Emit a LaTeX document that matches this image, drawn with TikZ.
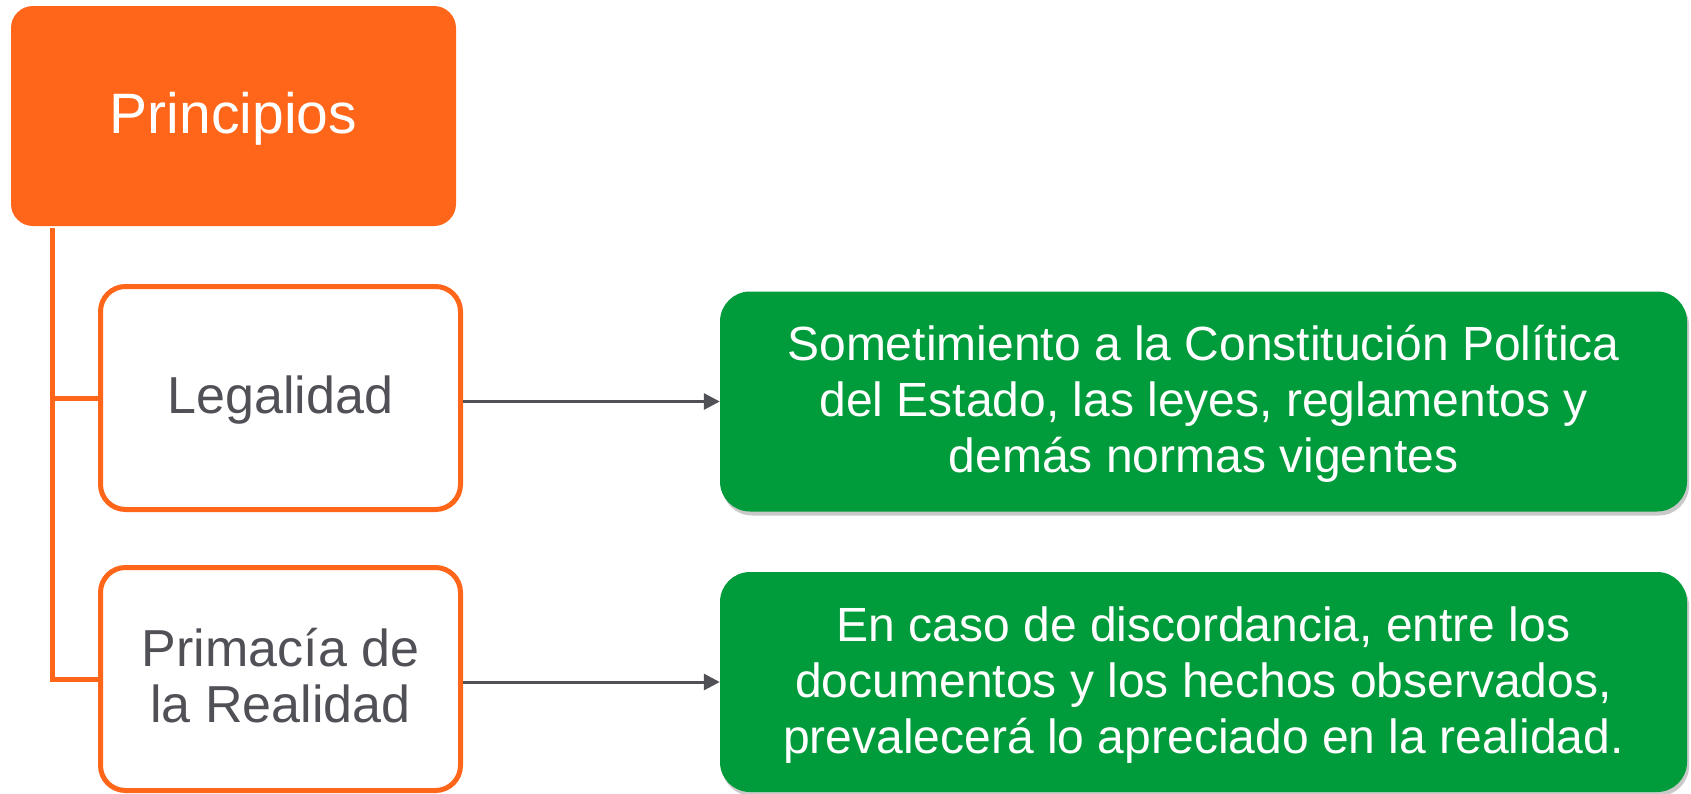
\documentclass[tikz,border=0pt]{standalone}
\usepackage{fontspec}
\setmainfont{Liberation Sans}
\usetikzlibrary{arrows.meta,shadows}
\definecolor{orng}{RGB}{255,102,26}
\definecolor{grn}{RGB}{0,155,58}
\definecolor{gry}{RGB}{80,80,87}
\newcommand{\lowtext}[1]{\raisebox{-4pt}[\height][\depth]{\begin{tabular}{@{}c@{}}#1\end{tabular}}}
\tikzset{
  headbox/.style={fill=orng, rounded corners=22pt, inner sep=0pt, text=white,
    minimum width=445pt, minimum height=220pt, font=\fontsize{57}{66}\selectfont},
  itembox/.style={draw=orng, line width=5pt, fill=white, rounded corners=25pt, inner sep=0pt,
    text=gry, minimum width=360pt, minimum height=223pt,
    font=\fontsize{52}{56}\selectfont},
  descbox/.style={fill=grn, rounded corners=30pt, inner sep=0pt, text=white,
    minimum width=967pt, minimum height=220pt, font=\fontsize{48}{56}\selectfont,
    drop shadow={shadow xshift=2pt, shadow yshift=-4pt, opacity=0.3, fill=black!70}},
  trunk/.style={draw=orng, line width=5pt},
  link/.style={draw=gry, line width=3pt, -{Triangle[length=16pt,width=16pt]}}
}
\begin{document}
\begin{tikzpicture}[x=1pt,y=-1pt]
\useasboundingbox (0,0) rectangle (1691,793);
\node[headbox] (head) at (233.5,116) {\lowtext{Principios}};
\node[itembox] (leg) at (280.5,398) {\lowtext{Legalidad}};
\node[itembox] (prim) at (280.5,679) {\lowtext{Primacía de\\la Realidad}};
\node[descbox] (g1) at (1203.5,401.5) {\lowtext{Sometimiento a la Constitución Política\\del Estado, las leyes, reglamentos y\\demás normas vigentes}};
\node[descbox] (g2) at (1203.5,682) {\lowtext{En caso de discordancia, entre los\\documentos y los hechos observados,\\prevalecerá lo apreciado en la realidad.}};
\coordinate (t) at (52.5,228);
\draw[trunk] (t) |- (leg.west);
\draw[trunk] (t) |- (prim.west);
\draw[link] (g1.west -| leg.east) -- (g1.west);
\draw[link] (g2.west -| prim.east) -- (g2.west);
\end{tikzpicture}
\end{document}
